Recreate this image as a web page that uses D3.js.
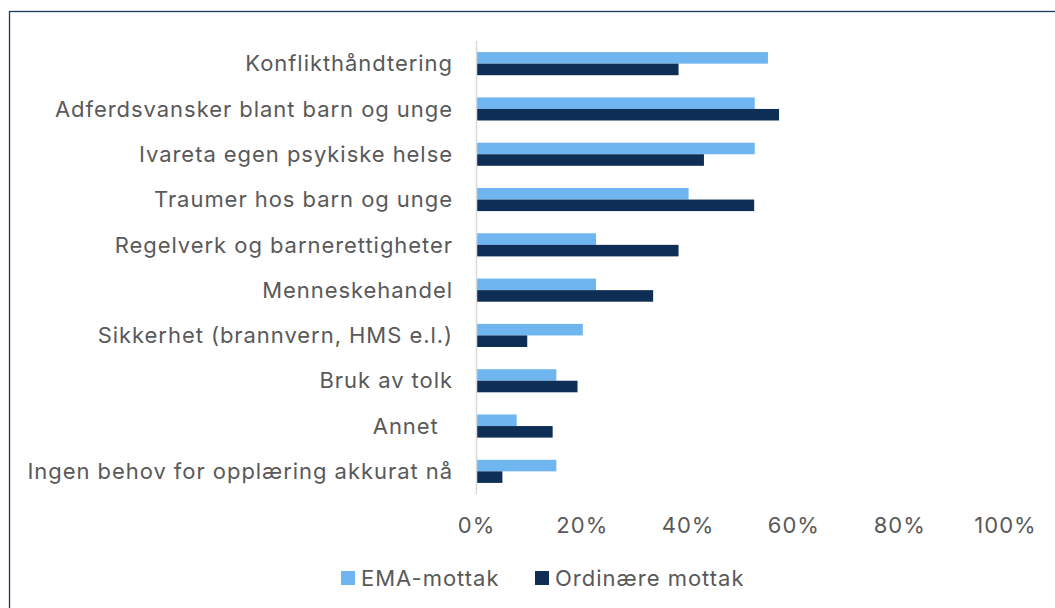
<!DOCTYPE html>
<html>
<head>
<meta charset="utf-8">
<script src="https://cdn.jsdelivr.net/npm/d3@7"></script>
<style>
  html, body { margin: 0; padding: 0; background: #ffffff; }
  svg { display: block; }
  text { font-family: Inter, "Noto Sans", sans-serif; fill: #595959; }
</style>
</head>
<body>
<svg id="chart" width="1055" height="608"></svg>
<script>
const categories = [
  "Konflikthåndtering",
  "Adferdsvansker blant barn og unge",
  "Ivareta egen psykiske helse",
  "Traumer hos barn og unge",
  "Regelverk og barnerettigheter",
  "Menneskehandel",
  "Sikkerhet (brannvern, HMS e.l.)",
  "Bruk av tolk",
  "Annet  ",
  "Ingen behov for opplæring akkurat nå"
];
const emaValues = [55.0, 52.5, 52.5, 40.0, 22.5, 22.5, 20.0, 15.0, 7.5, 15.0];
const ordinaryValues = [38.1, 57.1, 42.9, 52.4, 38.1, 33.3, 9.5, 19.0, 14.3, 4.8];
const seriesNames = ["EMA-mottak", "Ordinære mottak"];
const seriesColors = ["#6fb5f0", "#0e2e56"];
const tickValues = [0, 20, 40, 60, 80, 100];

const svg = d3.select("#chart");

// outer frame
svg.append("rect")
  .attr("x", 9.5).attr("y", 11.5)
  .attr("width", 1100).attr("height", 700)
  .attr("fill", "none")
  .attr("stroke", "#1f3b60")
  .attr("stroke-width", 1.3);

const x = d3.scaleLinear().domain([0, 100]).range([477, 1006]);
const y = d3.scaleBand().domain(categories).range([41, 494])
  .paddingInner(0.49).paddingOuter(0.245);
const ySub = d3.scaleBand().domain(seriesNames).range([0, y.bandwidth()]);

const rows = categories.map((c, i) => ({ c, vals: [emaValues[i], ordinaryValues[i]] }));

const g = svg.append("g");
const grp = g.selectAll("g.cat").data(rows).join("g")
  .attr("class", "cat")
  .attr("transform", d => `translate(0,${y(d.c)})`);

grp.selectAll("rect").data(d => d.vals.map((v, j) => ({ v, s: seriesNames[j], j })))
  .join("rect")
  .attr("x", x(0))
  .attr("y", d => ySub(d.s))
  .attr("width", d => x(d.v) - x(0))
  .attr("height", ySub.bandwidth())
  .attr("fill", d => seriesColors[d.j]);

// vertical axis line
svg.append("line")
  .attr("x1", x(0) - 0.5).attr("x2", x(0) - 0.5)
  .attr("y1", 41).attr("y2", 494)
  .attr("stroke", "#d9d9d9").attr("stroke-width", 1.5);

// category labels
const yAxis = d3.axisLeft(y).tickSize(0).tickPadding(0);
const yg = svg.append("g").attr("transform", `translate(453,0)`).call(yAxis);
yg.select(".domain").remove();
yg.selectAll("text")
  .style("font-size", "22px")
  .style("letter-spacing", "0.95px")
  .style("white-space", "pre")
  .attr("fill", "#595959")
  .attr("dy", "0.35em");

// x tick labels
const xAxis = d3.axisBottom(x).tickValues(tickValues).tickSize(0).tickPadding(0)
  .tickFormat(d => d + "%");
const xg = svg.append("g").attr("transform", `translate(-1,525)`).call(xAxis);
xg.select(".domain").remove();
xg.selectAll("text")
  .style("font-size", "22px")
  .style("letter-spacing", "1px")
  .attr("fill", "#595959")
  .attr("y", 0)
  .attr("dy", "0.35em");

// legend
const legendItems = [
  { name: seriesNames[0], color: seriesColors[0], x: 341 },
  { name: seriesNames[1], color: seriesColors[1], x: 535 }
];
const lg = svg.append("g");
const li = lg.selectAll("g").data(legendItems).join("g")
  .attr("transform", d => `translate(${d.x},571)`);
li.append("rect").attr("width", 14).attr("height", 14).attr("fill", d => d.color);
li.append("text")
  .attr("x", 20).attr("y", 7).attr("dy", "0.35em")
  .style("font-size", "22px")
  .style("letter-spacing", "1px")
  .text(d => d.name);
</script>
</body>
</html>
